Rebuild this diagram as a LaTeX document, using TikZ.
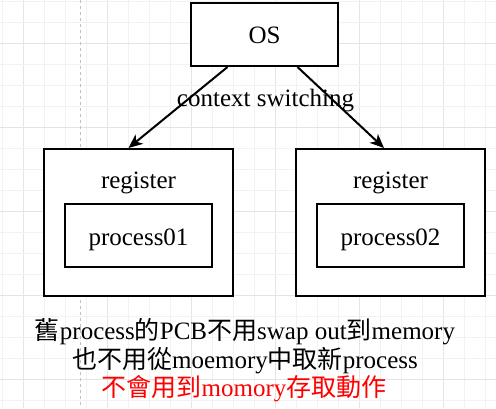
\documentclass[tikz,border=0pt]{standalone}
\usepackage{fontspec}
\setmainfont{Liberation Serif}
\newfontfamily\cjk{Noto Sans CJK TC}
\usetikzlibrary{arrows.meta}
\definecolor{gridminor}{HTML}{F2F2F2}
\definecolor{gridmajor}{HTML}{E4E4E4}
\definecolor{pagebreak}{HTML}{C0C0C0}
\begin{document}
\begin{tikzpicture}[x=1pt,y=-1pt,
  box/.style={draw=black, line width=2pt, fill=white, inner sep=0pt},
  txt/.style={font=\fontsize{25}{30}\selectfont, inner sep=0pt, anchor=base},
  arr/.style={line width=2pt, -{Stealth[length=14pt,width=12pt,inset=4pt]}},
  gmin/.style={draw=gridminor, line width=1pt},
  gmaj/.style={draw=gridmajor, line width=1pt}]
\useasboundingbox (0,0) rectangle (496,408);
\fill[white] (0,0) rectangle (496,408);
% background grid
\foreach \i in {0,...,23}{
  \pgfmathtruncatemacro{\m}{mod(\i,4)}
  \ifnum\m=1 \draw[gmaj] (2.3+21*\i,0) -- (2.3+21*\i,408);
  \else \draw[gmin] (2.3+21*\i,0) -- (2.3+21*\i,408); \fi
}
\foreach \i in {0,...,19}{
  \pgfmathtruncatemacro{\m}{mod(\i,4)}
  \ifnum\m=2 \draw[gmaj] (0,1.7+21*\i) -- (496,1.7+21*\i);
  \else \draw[gmin] (0,1.7+21*\i) -- (496,1.7+21*\i); \fi
}
\draw[pagebreak, line width=0.8pt, dash pattern=on 3pt off 3pt] (80,0) -- (80,408);

% boxes
\node[box, minimum width=147pt, minimum height=63pt] (os) at (264.5,34.5) {};
\node[txt] (oslbl) at (264.5,43) {OS};
\node[box, minimum width=189pt, minimum height=147pt] (reg1) at (138.5,222.5) {};
\node[txt] (reg1lbl) at (138.5,188) {register};
\node[box, minimum width=147pt, minimum height=63pt] (proc1) at (138.5,235.5) {};
\node[txt] (proc1lbl) at (138.5,245) {process01};
\node[box, minimum width=189pt, minimum height=147pt] (reg2) at (390.5,222.5) {};
\node[txt] (reg2lbl) at (390.5,188) {register};
\node[box, minimum width=147pt, minimum height=63pt] (proc2) at (390.5,235.5) {};
\node[txt] (proc2lbl) at (390.5,245) {process02};

% connectors
\draw[arr] ([xshift=-37pt]os.south) -- ([xshift=-10pt]reg1.north);
\draw[arr] ([xshift=33pt]os.south) -- ([xshift=-6.5pt]reg2.north);
\node[txt] (cs) at (265.5,106) {context switching};

% bottom text
\node[txt] (t1) at (245,339) {{\cjk 舊}process{\cjk 的}PCB{\cjk 不用}swap out{\cjk 到}memory};
\node[txt] (t2) at (245,368) {{\cjk 也不用從}moemory{\cjk 中取新}process};
\node[txt, text=red] (t3) at (244,396) {{\cjk 不會用到}momory{\cjk 存取動作}};
\end{tikzpicture}
\end{document}
